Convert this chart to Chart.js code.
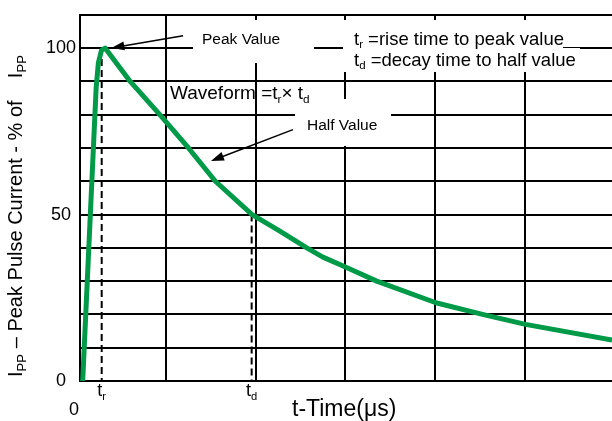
<!DOCTYPE html>
<html>
<head>
<meta charset="utf-8">
<script src="https://cdn.jsdelivr.net/npm/chart.js@4"></script>
<style>
  html, body { margin: 0; padding: 0; background: #fff; overflow: hidden; }
  canvas { display: block; }
</style>
</head>
<body>
<canvas id="pulse" width="612" height="421"></canvas>
<script>
// Pulse waveform (x in grid divisions, y in % of Ipp)
const timeDiv = [0.07, 0.22, 0.245, 0.28, 0.32, 0.6, 0.93, 1.25, 1.55, 1.96, 2.27, 2.57, 2.75, 3.02, 3.35, 4.01, 4.53, 5.01, 5.975];
const currentPct = [0, 88, 95.6, 99.4, 100, 90, 80, 70, 60, 50, 45, 40, 37.2, 34, 30, 23.5, 20, 17, 12.3];
const yTickLabels = [0, 50, 100];
const xGridAt = [1, 2, 3, 4, 5];
const riseTime = 0.282;   // t_r
const decayTime = 1.955;  // t_d

const FONT = '"Liberation Sans", Arial, Helvetica, sans-serif';
const GREEN = '#009a48';
const peakPct = Math.max(...currentPct);

function fontOf(size) { return size + 'px ' + FONT; }

// draw text made of [text, isSub] parts
function richText(ctx, parts, x, y, size, align, subRatio) {
  const subSize = size * (subRatio || 0.62);
  const widths = parts.map(p => {
    ctx.font = fontOf(p[1] ? subSize : size);
    return ctx.measureText(p[0]).width;
  });
  const total = widths.reduce((a, b) => a + b, 0);
  let cx = align === 'center' ? x - total / 2 : x;
  ctx.textAlign = 'left';
  ctx.textBaseline = 'alphabetic';
  parts.forEach((p, i) => {
    ctx.font = fontOf(p[1] ? subSize : size);
    ctx.fillText(p[0], cx, y + (p[1] ? size * 0.2 : 0));
    cx += widths[i];
  });
}

function arrow(ctx, x1, y1, x2, y2) {
  const ang = Math.atan2(y2 - y1, x2 - x1);
  const len = 13, half = 4.5;
  ctx.beginPath();
  ctx.moveTo(x1, y1);
  ctx.lineTo(x2 - Math.cos(ang) * len * 0.8, y2 - Math.sin(ang) * len * 0.8);
  ctx.stroke();
  ctx.beginPath();
  ctx.moveTo(x2, y2);
  ctx.lineTo(x2 - Math.cos(ang) * len + Math.sin(ang) * half, y2 - Math.sin(ang) * len - Math.cos(ang) * half);
  ctx.lineTo(x2 - Math.cos(ang) * len - Math.sin(ang) * half, y2 - Math.sin(ang) * len + Math.cos(ang) * half);
  ctx.closePath();
  ctx.fill();
}

const annotate = {
  id: 'annotate',
  // white patches where the grid is broken around the labels
  beforeDatasetsDraw(chart) {
    const ctx = chart.ctx;
    ctx.save();
    ctx.fillStyle = '#fff';
    ctx.fillRect(193, 20, 121, 43);
    ctx.fillRect(343, 20, 220, 52);
    ctx.fillRect(563, 48, 17, 24);
    ctx.fillRect(295, 99, 96, 47);
    ctx.restore();
  },
  afterDraw(chart) {
    const { ctx, scales: { x, y } } = chart;
    const X = v => x.getPixelForValue(v);
    const Y = v => y.getPixelForValue(v);
    ctx.save();
    ctx.fillStyle = '#000';
    ctx.strokeStyle = '#000';
    ctx.lineWidth = 1.5;

    // arrows
    arrow(ctx, X(1.19), Y(103.7), X(0.39), Y(peakPct));
    arrow(ctx, X(2.416), Y(75.5), X(1.501), Y(66.1));

    // annotations
    richText(ctx, [['Peak Value']], 202, 44, 15.5);
    richText(ctx, [['Half Value']], 307, 130, 15.5);
    richText(ctx, [['Waveform =t'], ['r', 1], ['\u00d7 t'], ['d', 1]], 170, 99, 19);
    richText(ctx, [['t'], ['r', 1], [' =rise time to peak value']], 354, 44.5, 18.5);
    richText(ctx, [['t'], ['d', 1], [' =decay time to half value']], 354, 65.5, 18.5);

    // x axis labels
    richText(ctx, [['0']], X(x.min) - 6, 415, 18, 'center');
    richText(ctx, [['t'], ['r', 1]], X(riseTime), 396, 18, 'center');
    richText(ctx, [['t'], ['d', 1]], X(decayTime), 396, 18, 'center');
    richText(ctx, [['t-Time(\u03bcs)']], 292, 416, 23);

    // y axis title
    ctx.translate(22, 216);
    ctx.rotate(-Math.PI / 2);
    richText(ctx, [['I'], ['PP', 1], [' \u2013 Peak Pulse Current - % of    I'], ['PP', 1]], 0, 0, 20, 'center', 0.66);
    ctx.restore();
  }
};

const pts = timeDiv.map((t, i) => ({ x: t, y: currentPct[i] }));

new Chart(document.getElementById('pulse'), {
  type: 'line',
  data: {
    datasets: [
      {
        data: pts,
        borderColor: GREEN,
        borderWidth: 5,
        borderJoinStyle: 'round',
        pointRadius: 0,
        tension: 0
      },
      {
        data: [{ x: riseTime, y: peakPct }, { x: riseTime, y: 0 }],
        borderColor: '#000',
        borderWidth: 2,
        borderDash: [7, 4],
        pointRadius: 0
      },
      {
        data: [{ x: decayTime, y: peakPct / 2 }, { x: decayTime, y: 0 }],
        borderColor: '#000',
        borderWidth: 2,
        borderDash: [7, 4],
        pointRadius: 0
      }
    ]
  },
  options: {
    responsive: false,
    animation: false,
    layout: { padding: { top: 8, right: 0, bottom: 0, left: 0 } },
    plugins: { legend: { display: false }, tooltip: { enabled: false } },
    scales: {
      x: {
        type: 'linear',
        min: 0.04,
        max: 5.975,
        afterBuildTicks: s => { s.ticks = xGridAt.map(v => ({ value: v })); },
        afterFit: s => { s.height = 40; },
        ticks: { display: false },
        grid: { color: '#000', lineWidth: 2, drawTicks: false },
        border: { display: true, color: '#000', width: 2 }
      },
      y: {
        min: 0,
        max: 110,
        afterFit: s => { s.width = 80; },
        ticks: {
          stepSize: 10,
          padding: 4,
          crossAlign: 'center',
          color: '#000',
          font: { family: FONT, size: 18 },
          callback: v => (yTickLabels.includes(v) ? String(v) : '')
        },
        grid: { color: '#000', lineWidth: 2, drawTicks: false },
        border: { display: true, color: '#000', width: 2 }
      }
    }
  },
  plugins: [annotate]
});
</script>
</body>
</html>
